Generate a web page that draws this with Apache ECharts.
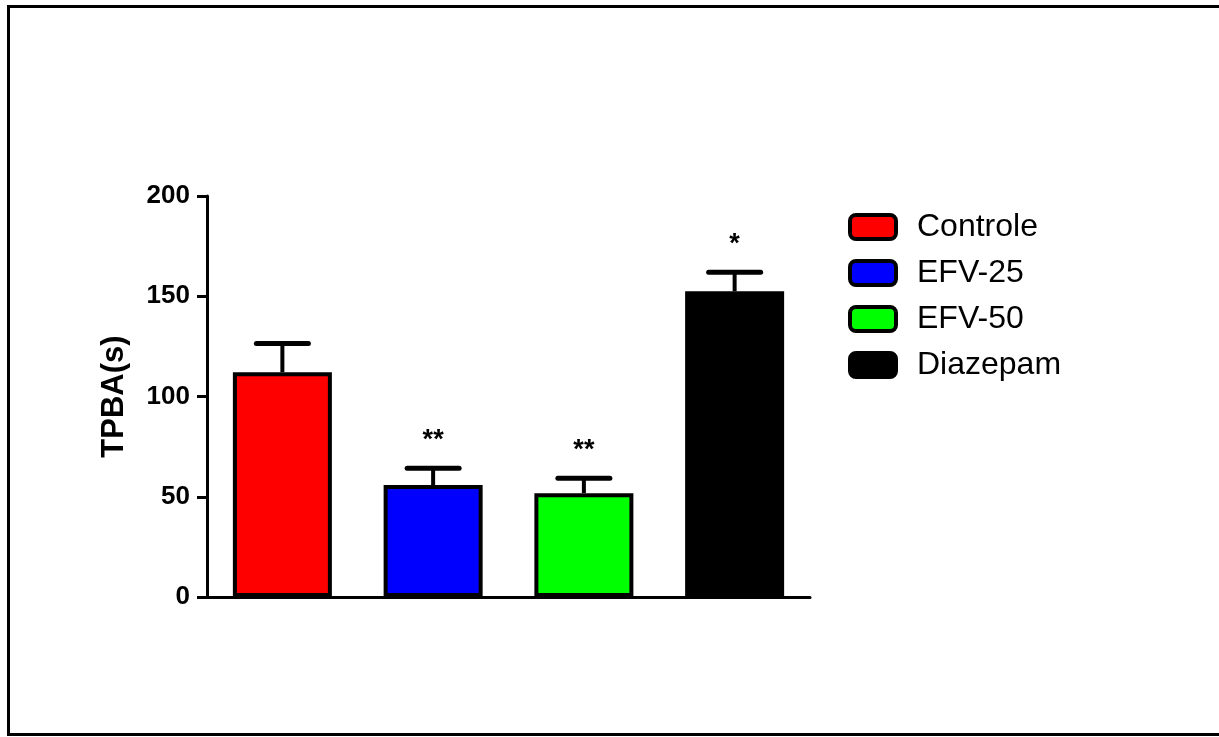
<!DOCTYPE html>
<html>
<head>
<meta charset="utf-8">
<script src="https://cdn.jsdelivr.net/npm/echarts@6/dist/echarts.min.js"></script>
<style>
html,body{margin:0;padding:0;background:#fff;}
#chart{width:1219px;height:737px;}
</style>
</head>
<body>
<div id="chart"></div>
<script>
const categories = ['Controle', 'EFV-25', 'EFV-50', 'Diazepam'];
const means = [112.1, 55.8, 51.8, 152.5];
const errors = [14.3, 8.4, 7.4, 9.5];
const significance = ['', '**', '**', '*'];
const colors = ['#FF0000', '#0000FF', '#00FF00', '#000000'];
const yTicks = { min: 0, max: 200, interval: 50 };
const yTitle = 'TPBA(s)';

const FONT = '"Liberation Sans", Arial, sans-serif';

const barSeries = categories.map((name, i) => ({
  name: name,
  type: 'bar',
  barWidth: 99,
  barGap: '-100%',
  data: categories.map((c, j) => (j === i ? means[j] : '-')),
  itemStyle: { color: colors[i], borderColor: '#000', borderWidth: 4 },
  emphasis: { disabled: true },
  silent: true,
  z: 2
}));

const errData = categories.map((c, i) => [i, means[i], errors[i], significance[i]]);

const errorSeries = {
  type: 'custom',
  name: 'err',
  data: errData,
  z: 3,
  silent: true,
  renderItem: function (params, api) {
    const idx = api.value(0);
    const m = api.value(1);
    const e = api.value(2);
    const sig = errData[params.dataIndex][3];
    const base = api.coord([idx, m]);
    const top = api.coord([idx, m + e]);
    const half = 26;
    const children = [
      { type: 'line', shape: { x1: base[0], y1: base[1], x2: top[0], y2: top[1] },
        style: { stroke: '#000', lineWidth: 4 } },
      { type: 'line', shape: { x1: top[0] - half, y1: top[1], x2: top[0] + half, y2: top[1] },
        style: { stroke: '#000', lineWidth: 5, lineCap: 'round' } }
    ];
    if (sig) {
      children.push({
        type: 'text',
        style: {
          text: sig, x: top[0], y: top[1] - 41,
          align: 'center', verticalAlign: 'top',
          font: 'bold 27px ' + FONT, fill: '#000'
        }
      });
    }
    return { type: 'group', children: children };
  }
};

const chart = echarts.init(document.getElementById('chart'));
chart.setOption({
  animation: false,
  backgroundColor: '#fff',
  grid: { left: 207, top: 196, width: 603, height: 401, outerBoundsMode: 'none', containLabel: false },
  legend: {
    orient: 'vertical',
    left: 843,
    top: 206,
    itemWidth: 46,
    itemHeight: 24,
    itemGap: 14,
    icon: 'roundRect',
    selectedMode: false,
    data: categories.map((c, i) => ({
      name: c,
      itemStyle: { color: colors[i], borderColor: '#000', borderWidth: 4 }
    })),
    textStyle: { fontFamily: FONT, fontSize: 32, color: '#000', padding: [0, 0, 0, 16], lineHeight: 24 }
  },
  xAxis: {
    type: 'category',
    data: categories,
    axisLine: { lineStyle: { color: '#000', width: 3 } },
    axisTick: { alignWithLabel: true, length: 10, lineStyle: { color: '#000', width: 3 } },
    axisLabel: { show: false },
    splitLine: { show: false }
  },
  yAxis: {
    type: 'value',
    min: yTicks.min,
    max: yTicks.max,
    interval: yTicks.interval,
    name: yTitle,
    nameLocation: 'middle',
    nameRotate: 90,
    nameGap: 77,
    nameTextStyle: { fontFamily: FONT, fontSize: 31, fontWeight: 'bold', color: '#000' },
    axisLine: { show: true, lineStyle: { color: '#000', width: 3 } },
    axisTick: { show: true, length: 10, lineStyle: { color: '#000', width: 3 } },
    axisLabel: { margin: 17, fontFamily: FONT, fontSize: 26, fontWeight: 'bold', color: '#000' },
    splitLine: { show: false }
  },
  graphic: [{
    type: 'rect',
    shape: { x: 8.5, y: 6.5, width: 1300, height: 728 },
    style: { fill: 'none', stroke: '#000', lineWidth: 3 },
    silent: true
  }],
  series: barSeries.concat([errorSeries])
});
</script>
</body>
</html>
